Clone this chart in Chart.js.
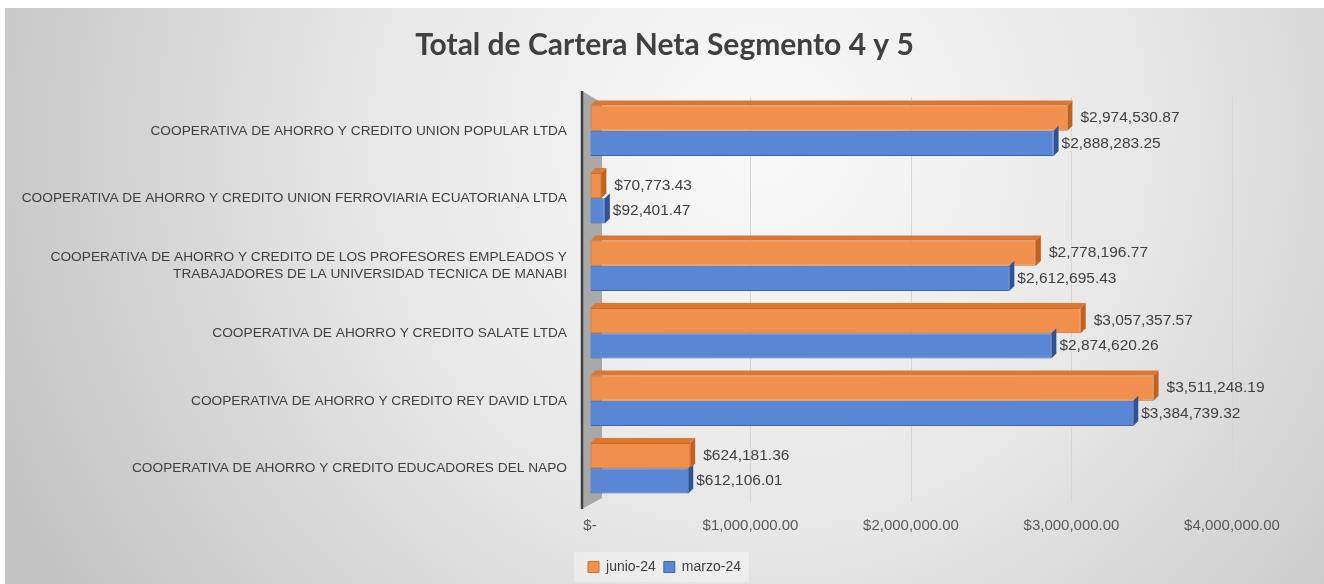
<!DOCTYPE html>
<html>
<head>
<meta charset="utf-8">
<script src="https://cdn.jsdelivr.net/npm/chart.js@4/dist/chart.umd.min.js"></script>
<style>
html,body{margin:0;padding:0;background:#fff;}
#wrap{width:1324px;height:584px;}
</style>
</head>
<body>
<div id="wrap"><canvas id="c" width="1324" height="584"></canvas></div>
<script>
const categories = [
  "COOPERATIVA DE AHORRO Y CREDITO UNION POPULAR LTDA",
  "COOPERATIVA DE AHORRO Y CREDITO UNION FERROVIARIA ECUATORIANA LTDA",
  ["COOPERATIVA DE AHORRO Y CREDITO DE LOS PROFESORES EMPLEADOS Y", "TRABAJADORES DE LA UNIVERSIDAD TECNICA DE MANABI"],
  "COOPERATIVA DE AHORRO Y CREDITO SALATE LTDA",
  "COOPERATIVA DE AHORRO Y CREDITO REY DAVID LTDA",
  "COOPERATIVA DE AHORRO Y CREDITO EDUCADORES DEL NAPO"
];
const junio24 = [2974530.87, 70773.43, 2778196.77, 3057357.57, 3511248.19, 624181.36];
const marzo24 = [2888283.25, 92401.47, 2612695.43, 2874620.26, 3384739.32, 612106.01];
const seriesNames = ["junio-24", "marzo-24"];
const xTicks = [0, 1000000, 2000000, 3000000, 4000000];

const fmtMoney = v => "$" + v.toLocaleString("en-US", {minimumFractionDigits: 2, maximumFractionDigits: 2});
const DEPTH = 5;
const faceColors = [
  {top: "#DC7630", side: "#C2611D"},
  {top: "#3F68B5", side: "#2E5296"}
];

const bgPlugin = {
  id: "bg",
  beforeDraw(chart) {
    const ctx = chart.ctx;
    ctx.save();
    ctx.fillStyle = "#ffffff";
    ctx.fillRect(0, 0, chart.width, chart.height);
    const g = ctx.createRadialGradient(760, 140, 0, 760, 140, 820);
    g.addColorStop(0, "#fafafa");
    g.addColorStop(0.5, "#e6e6e6");
    g.addColorStop(1, "#c4c4c4");
    ctx.fillStyle = g;
    ctx.fillRect(5, 8, chart.width - 5, chart.height - 8);
    const lg = chart.legend;
    if (lg && lg.legendHitBoxes && lg.legendHitBoxes.length) {
      const hb = lg.legendHitBoxes;
      const l = hb[0].left - 14;
      const r = hb[hb.length - 1].left + hb[hb.length - 1].width + 8;
      const t = hb[0].top - 8;
      const b = hb[0].top + hb[0].height + 8;
      ctx.fillStyle = "rgba(255,255,255,0.35)";
      ctx.fillRect(l, t, r - l, b - t);
    }
    ctx.restore();
  },
  beforeDatasetsDraw(chart) {
    const ctx = chart.ctx;
    const a = chart.chartArea;
    ctx.save();
    ctx.fillStyle = "#a8a8a8";
    ctx.beginPath();
    ctx.moveTo(a.left - 8, a.top - 6);
    ctx.lineTo(a.left + 12, a.top + 6);
    ctx.lineTo(a.left + 12, a.bottom - 4);
    ctx.lineTo(a.left - 8, a.bottom + 7);
    ctx.closePath();
    ctx.fill();
    ctx.strokeStyle = "#404040";
    ctx.lineWidth = 2.5;
    ctx.beginPath();
    ctx.moveTo(a.left - 8, a.top - 6);
    ctx.lineTo(a.left - 8, a.bottom + 7);
    ctx.stroke();
    ctx.restore();
  },
  afterDatasetsDraw(chart) {
    const ctx = chart.ctx;
    ctx.save();
    for (let di = chart.data.datasets.length - 1; di >= 0; di--) {
      const meta = chart.getDatasetMeta(di);
      if (meta.hidden) continue;
      meta.data.forEach(el => {
        const h = el.height;
        const yTop = el.y - h / 2, yBot = el.y + h / 2;
        const xs = el.base, xe = el.x;
        ctx.fillStyle = faceColors[di].side;
        ctx.beginPath();
        ctx.moveTo(xe, yTop);
        ctx.lineTo(xe + DEPTH, yTop - DEPTH);
        ctx.lineTo(xe + DEPTH, yBot - DEPTH);
        ctx.lineTo(xe, yBot);
        ctx.closePath();
        ctx.fill();
        if (di === 0) {
          ctx.fillStyle = faceColors[di].top;
          ctx.beginPath();
          ctx.moveTo(xs, yTop);
          ctx.lineTo(xs + DEPTH, yTop - DEPTH);
          ctx.lineTo(xe + DEPTH, yTop - DEPTH);
          ctx.lineTo(xe, yTop);
          ctx.closePath();
          ctx.fill();
        }
      });
    }
    ctx.fillStyle = "#404040";
    ctx.font = "15.5px 'Liberation Sans', Arial, sans-serif";
    ctx.textBaseline = "middle";
    ctx.textAlign = "left";
    chart.data.datasets.forEach((ds, di) => {
      const meta = chart.getDatasetMeta(di);
      meta.data.forEach((el, i) => {
        ctx.fillText(fmtMoney(ds.data[i]), el.x + (di === 0 ? 13 : 8), el.y);
      });
    });
    ctx.restore();
  }
};

new Chart(document.getElementById("c"), {
  type: "bar",
  data: {
    labels: categories,
    datasets: [
      {label: seriesNames[0], data: junio24, backgroundColor: "#F1904C", borderColor: "#D66C22", borderWidth: 1, borderSkipped: false},
      {label: seriesNames[1], data: marzo24, backgroundColor: "#5A86D6", borderColor: "#3A64B2", borderWidth: 1, borderSkipped: false}
    ]
  },
  options: {
    indexAxis: "y",
    responsive: false,
    animation: false,
    devicePixelRatio: 1,
    layout: {padding: {left: 5, right: 0, top: 8, bottom: 0}},
    datasets: {bar: {categoryPercentage: 0.75, barPercentage: 1.0}},
    scales: {
      x: {
        min: 0, max: 4000000,
        afterBuildTicks(s) { s.ticks = xTicks.map(v => ({value: v})); },
        afterFit(s) { s.height = 50; },
        grid: {color: "#d6d6d6", drawTicks: false, lineWidth: 1},
        border: {display: false},
        ticks: {
          padding: 15,
          color: "#595959",
          font: {size: 15, family: "'Liberation Sans', Arial, sans-serif"},
          callback: v => v === 0 ? "$-" : fmtMoney(v)
        }
      },
      y: {
        afterFit(s) { s.width = 585; },
        grid: {display: false, drawTicks: false},
        border: {display: false},
        ticks: {
          padding: 23,
          color: "#404040",
          font: {size: 13.7, family: "'Liberation Sans', Arial, sans-serif"}
        }
      },
      yRight: {
        position: "right",
        afterFit(s) { s.width = 92; },
        grid: {display: false, drawTicks: false},
        border: {display: false},
        ticks: {display: false}
      }
    },
    plugins: {
      title: {
        display: true,
        text: "Total de Cartera Neta Segmento 4 y 5",
        color: "#404040",
        font: {size: 30, weight: "bold", family: "Lato, 'Open Sans', sans-serif"},
        padding: {top: 19, bottom: 34}
      },
      legend: {
        position: "bottom",
        labels: {
          boxWidth: 11, boxHeight: 11,
          color: "#404040",
          font: {size: 14, family: "'Liberation Sans', Arial, sans-serif"},
          padding: 8
        }
      },
      tooltip: {enabled: false}
    }
  },
  plugins: [bgPlugin]
});
</script>
</body>
</html>
